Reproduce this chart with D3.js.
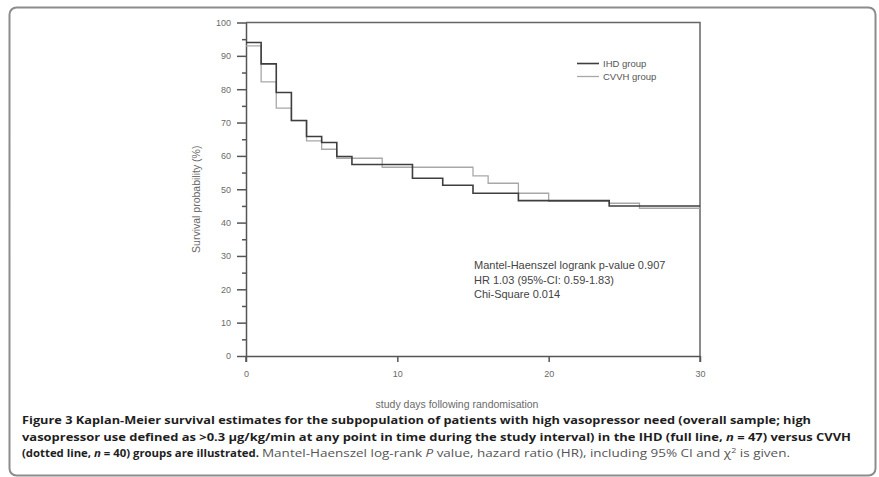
<!DOCTYPE html>
<html>
<head>
<meta charset="utf-8">
<script src="https://cdn.jsdelivr.net/npm/d3@7"></script>
<style>
  html, body { margin: 0; padding: 0; background: #ffffff; }
  svg { display: block; }
</style>
</head>
<body>
<svg id="chart" width="879" height="477"></svg>
<script>
// Kaplan-Meier step data: day at which each step begins, survival (%) from that day
const ihdDays  = [0, 1, 2, 3, 4, 5, 6, 7, 11, 13, 15, 18, 24];
const ihdSurv  = [94, 87.6, 79, 70.6, 65.8, 64, 59.8, 57.4, 53.3, 51.2, 48.8, 46.6, 45];
const cvvhDays = [0, 1, 2, 3, 4, 5, 6, 9, 15, 16, 18, 20, 24, 26];
const cvvhSurv = [93, 82.2, 74.3, 70.6, 64.5, 62, 59.3, 56.6, 54, 51.8, 48.8, 46.4, 45.8, 44.3];
const studyEnd = 30;

const seriesNames = ["IHD group", "CVVH group"];
const yMajorTicks = [0, 10, 20, 30, 40, 50, 60, 70, 80, 90, 100];
const yMinorTicks = [5, 15, 25, 35, 45, 55, 65, 75, 85, 95];
const xMajorTicks = [0, 10, 20, 30];

const statLines = [
  "Mantel-Haenszel logrank p-value 0.907",
  "HR 1.03 (95%-CI: 0.59-1.83)",
  "Chi-Square 0.014"
];

const svg = d3.select("#chart");

// outer figure panel
svg.append("rect")
  .attr("x", 9.5).attr("y", 7.5).attr("width", 866).attr("height", 468)
  .attr("rx", 7).attr("ry", 7)
  .attr("fill", "#ffffff").attr("stroke", "#8c8c8c").attr("stroke-width", 2);

const x = d3.scaleLinear().domain([0, 30]).range([246, 700]);
const y = d3.scaleLinear().domain([0, 100]).range([356, 22.5]);

const axisColor = "#555";
const labelColor = "#6a6a6a";

// plot frame (top and right)
svg.append("path")
  .attr("d", `M${x(0)},${y(100)}H${x(30)}V${y(0) + 6}`)
  .attr("fill", "none").attr("stroke", "#666").attr("stroke-width", 1.5);

// y axis: major ticks with labels, minor ticks without
svg.append("g").attr("transform", `translate(${x(0)},0)`)
  .call(d3.axisLeft(y).tickValues(yMajorTicks).tickSize(9).tickPadding(6).tickSizeOuter(0));
svg.append("g").attr("transform", `translate(${x(0)},0)`)
  .call(d3.axisLeft(y).tickValues(yMinorTicks).tickSize(4).tickFormat("").tickSizeOuter(0))
  .call(g => g.select(".domain").remove());

// x axis
svg.append("g").attr("transform", `translate(0,${y(0)})`)
  .call(d3.axisBottom(x).tickValues(xMajorTicks).tickSize(6).tickPadding(9).tickSizeOuter(0));

svg.selectAll(".tick line, .domain")
  .attr("stroke", axisColor).attr("stroke-width", 1.5);
svg.selectAll(".tick text")
  .attr("fill", labelColor)
  .style("font-family", "'Liberation Sans', Arial, sans-serif")
  .style("font-size", "9px");
// extend left axis slightly below the origin
svg.append("line")
  .attr("x1", x(0)).attr("x2", x(0)).attr("y1", y(0)).attr("y2", y(0) + 6)
  .attr("stroke", axisColor).attr("stroke-width", 1.5);

// axis titles
svg.append("text")
  .attr("transform", `translate(200,${(y(0) + y(100)) / 2 + 10}) rotate(-90)`)
  .attr("text-anchor", "middle")
  .attr("fill", labelColor)
  .style("font-family", "'Liberation Sans', Arial, sans-serif")
  .style("font-size", "10.5px")
  .text("Survival probability (%)");

svg.append("text")
  .attr("x", 457).attr("y", 408)
  .attr("text-anchor", "middle")
  .attr("fill", labelColor)
  .style("font-family", "'Liberation Sans', Arial, sans-serif")
  .style("font-size", "10.5px")
  .text("study days following randomisation");

// survival curves as step functions
function stepPoints(days, surv) {
  const pts = days.map((d, i) => [d, surv[i]]);
  pts.push([studyEnd, surv[surv.length - 1]]);
  return pts;
}
const line = d3.line()
  .x(d => x(d[0]))
  .y(d => y(d[1]))
  .curve(d3.curveStepAfter);

const series = [
  { name: seriesNames[0], pts: stepPoints(ihdDays, ihdSurv), color: "#3e3e3e", width: 1.6 },
  { name: seriesNames[1], pts: stepPoints(cvvhDays, cvvhSurv), color: "#a8a8a8", width: 1.3 }
];

// lighter curve first so the full line sits on top
svg.append("g").selectAll("path")
  .data(series.slice().reverse())
  .join("path")
  .attr("d", d => line(d.pts))
  .attr("fill", "none")
  .attr("stroke", d => d.color)
  .attr("stroke-width", d => d.width);

// legend
const legend = svg.append("g").attr("transform", "translate(577,63.5)");
series.forEach((s, i) => {
  const g = legend.append("g").attr("transform", `translate(0,${i * 13})`);
  g.append("line").attr("x1", 0).attr("x2", 22).attr("y1", 0).attr("y2", 0)
    .attr("stroke", s.color).attr("stroke-width", s.width);
  g.append("text").attr("x", 26).attr("y", 3.5)
    .attr("fill", "#555")
    .style("font-family", "'Liberation Sans', Arial, sans-serif")
    .style("font-size", "9.5px")
    .text(s.name);
});

// test statistics
svg.append("g").selectAll("text")
  .data(statLines)
  .join("text")
  .attr("x", 474)
  .attr("y", (d, i) => 269 + i * 14.5)
  .attr("fill", "#444")
  .style("font-family", "'Liberation Sans', Arial, sans-serif")
  .style("font-size", "11px")
  .text(d => d);

// figure caption
const capFont = "'Open Sans', 'Noto Sans', sans-serif";
const cap = svg.append("g");
cap.append("text")
  .attr("x", 22).attr("y", 424)
  .attr("textLength", 789).attr("lengthAdjust", "spacingAndGlyphs")
  .attr("fill", "#1e1e1e")
  .style("font-family", capFont).style("font-size", "10.5px").style("font-weight", "700")
  .text("Figure 3 Kaplan-Meier survival estimates for the subpopulation of patients with high vasopressor need (overall sample; high");

cap.append("text")
  .attr("x", 22).attr("y", 440.5)
  .attr("textLength", 829).attr("lengthAdjust", "spacingAndGlyphs")
  .attr("fill", "#1e1e1e")
  .style("font-family", capFont).style("font-size", "10.5px").style("font-weight", "700")
  .call(t => {
    t.append("tspan").text("vasopressor use defined as >0.3 \u00b5g/kg/min at any point in time during the study interval) in the IHD (full line, ");
    t.append("tspan").style("font-style", "italic").text("n");
    t.append("tspan").text(" = 47) versus CVVH");
  });

cap.append("text")
  .attr("x", 22).attr("y", 457)
  .attr("textLength", 237).attr("lengthAdjust", "spacingAndGlyphs")
  .attr("fill", "#1e1e1e")
  .style("font-family", capFont).style("font-size", "10.5px").style("font-weight", "700")
  .call(t => {
    t.append("tspan").text("(dotted line, ");
    t.append("tspan").style("font-style", "italic").text("n");
    t.append("tspan").text(" = 40) groups are illustrated.");
  });

cap.append("text")
  .attr("x", 262).attr("y", 457)
  .attr("textLength", 528).attr("lengthAdjust", "spacingAndGlyphs")
  .attr("fill", "#555")
  .style("font-family", capFont).style("font-size", "10.5px")
  .call(t => {
    t.append("tspan").text("Mantel-Haenszel log-rank ");
    t.append("tspan").style("font-style", "italic").text("P");
    t.append("tspan").text(" value, hazard ratio (HR), including 95% CI and \u03c7");
    t.append("tspan").attr("dy", -4).style("font-size", "7px").text("2");
    t.append("tspan").attr("dy", 4).text(" is given.");
  });
</script>
</body>
</html>
